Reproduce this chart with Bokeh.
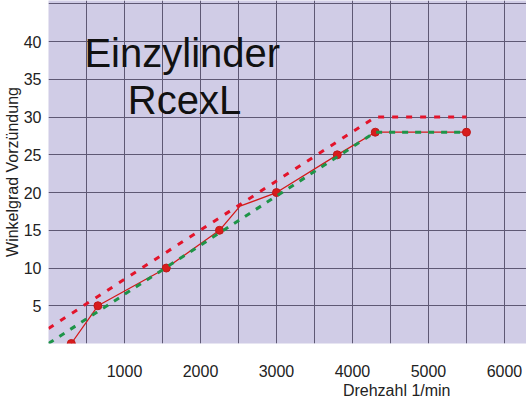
from bokeh.plotting import figure
from bokeh.models import Range1d, FixedTicker, SingleIntervalTicker, Label, Title
from bokeh.embed import file_html
from bokeh.resources import INLINE

# measured curve
rpm_meas = [300, 650, 1550, 2250, 2520, 3000, 3800, 4300, 5500]
deg_meas = [0, 5, 10, 15, 18.2, 20, 25, 28, 28]
# marker points
rpm_pts = [300, 650, 1550, 2250, 3000, 3800, 4300, 5500]
deg_pts = [0, 5, 10, 15, 20, 25, 28, 28]
# red dashed curve
rpm_red = [0, 4300, 5500]
deg_red = [2, 30, 30]
# green dashed curve
rpm_green = [0, 4300, 5500]
deg_green = [0, 28, 28]

x_ticks = [1000, 2000, 3000, 4000, 5000, 6000]
y_ticks = [5, 10, 15, 20, 25, 30, 35, 40]

FONT = "Liberation Sans"

p = figure(width=526, height=399, output_backend="svg", toolbar_location=None,
           x_range=Range1d(0, 6290), y_range=Range1d(0, 45.45),
           min_border_left=0, min_border_right=0, min_border_top=0, min_border_bottom=0)
p.background_fill_color = "#d0cce6"
p.border_fill_color = "white"
p.outline_line_color = None

p.xaxis.ticker = FixedTicker(ticks=x_ticks)
p.yaxis.ticker = FixedTicker(ticks=y_ticks)
p.xgrid.ticker = SingleIntervalTicker(interval=500)
p.ygrid.ticker = SingleIntervalTicker(interval=5)
for g in (p.xgrid, p.ygrid):
    g.grid_line_color = "#5e5874"
    g.grid_line_width = 1

for ax in (p.xaxis, p.yaxis):
    ax.axis_line_color = None
    ax.major_tick_line_color = None
    ax.minor_tick_line_color = None
    ax.major_tick_out = 0
    ax.major_tick_in = 0
    ax.minor_tick_out = 0
    ax.major_label_text_font = FONT
    ax.major_label_text_font_size = "16px"
    ax.major_label_text_color = "#222222"
    ax.axis_label_text_font = FONT
    ax.axis_label_text_font_size = "16px"
    ax.axis_label_text_font_style = "normal"
    ax.axis_label_text_color = "#222222"
p.xaxis.major_label_standoff = 21
p.yaxis.major_label_standoff = 7
p.yaxis.axis_label = "Winkelgrad Vorzündung"
p.yaxis.axis_label_standoff = 0

p.add_layout(Title(text="Drehzahl 1/min", align="right", offset=76, standoff=1,
                   text_font=FONT, text_font_size="16px", text_font_style="normal",
                   text_color="#222222"), "below")

p.line(rpm_red, deg_red, line_color="#e3142b", line_width=3, line_dash="6 8")
p.line(rpm_meas, deg_meas, line_color="#d41a1a", line_width=1.3)
p.scatter(rpm_pts, deg_pts, size=8, fill_color="#d81c1c", line_color="#c01818")
p.line(rpm_green, deg_green, line_color="#1e9448", line_width=3, line_dash="6 7")

p.add_layout(Label(x=1760, y=38.43, text="Einzylinder", text_align="center",
                   text_baseline="alphabetic", text_font=FONT, text_font_size="40px",
                   text_color="#111111"))
p.add_layout(Label(x=1790, y=32.25, text="RcexL", text_align="center",
                   text_baseline="alphabetic", text_font=FONT, text_font_size="40px",
                   text_color="#111111"))

open("out.html", "w").write(file_html(p, INLINE))
